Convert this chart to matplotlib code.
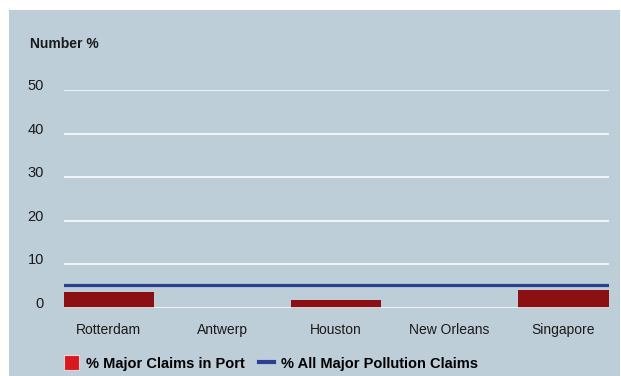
import matplotlib.pyplot as plt
from matplotlib.patches import Rectangle, Patch
from matplotlib.lines import Line2D

ports = ["Rotterdam", "Antwerp", "Houston", "New Orleans", "Singapore"]
port_claims = [3.7, 0, 1.8, 0, 4.0]
all_pollution = 5.2
y_ticks = [0, 10, 20, 30, 40, 50]

panel = "#bdced9"
bar_red = "#8b1014"
legend_red = "#d71920"
line_blue = "#2a4093"

plt.rcParams["font.family"] = ["Liberation Sans", "DejaVu Sans"]

fig = plt.figure(figsize=(6.21, 3.76), dpi=100, facecolor="white")

# coloured panel behind everything
fig.patches.append(
    Rectangle((9 / 621, 0), 611 / 621, 366 / 376,
              transform=fig.transFigure, facecolor=panel,
              edgecolor="none", zorder=-5)
)

ax = fig.add_axes([63.5 / 621, 68.3 / 376, 545 / 621, 217.7 / 376])
ax.set_zorder(1)
ax.patch.set_alpha(0)

x = range(len(ports))
ax.bar(x, port_claims, width=0.8, color=bar_red, zorder=2)

for t in y_ticks:
    ax.axhline(t, color="white", lw=1.4, alpha=0.8, zorder=3)

ax.axhline(all_pollution, color=line_blue, lw=2.3, zorder=4)

ax.set_xlim(-0.4, 4.4)
ax.set_ylim(0, 50)
ax.set_xticks(list(x))
ax.set_xticklabels(ports, fontsize=10)
ax.set_yticks(y_ticks)
ax.set_yticklabels([str(t) for t in y_ticks], fontsize=10.5, va="baseline")
ax.tick_params(axis="both", length=0, colors="#1a1a1a")
ax.tick_params(axis="x", pad=11)
ax.tick_params(axis="y", pad=14)
for s in ax.spines.values():
    s.set_visible(False)

fig.text(30 / 621, 1 - 44 / 376, "Number %", fontsize=10,
         fontweight="bold", va="center", ha="left", color="#1a1a1a")

handles = [
    Patch(facecolor=legend_red, edgecolor="#f0d0d0", linewidth=0.8),
    Line2D([0], [0], color=line_blue, lw=3),
]
fig.legend(handles, ["% Major Claims in Port", "% All Major Pollution Claims"],
           loc="center left", bbox_to_anchor=(51 / 621, 1 - 363 / 376),
           ncol=2, frameon=False, handlelength=1.0, handleheight=1.2,
           handletextpad=0.5, columnspacing=1.0,
           prop={"weight": "bold", "size": 10.5})

fig.savefig("out.png", dpi=100, facecolor="white")
